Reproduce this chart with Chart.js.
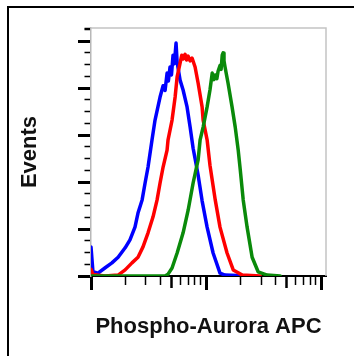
<!DOCTYPE html>
<html>
<head>
<meta charset="utf-8">
<script src="https://cdn.jsdelivr.net/npm/chart.js@4.4.1/dist/chart.umd.min.js"></script>
<style>
  html, body { margin: 0; padding: 0; background: #fff; }
  #wrap { position: relative; width: 354px; height: 356px; overflow: hidden; }
  #frame { position: absolute; left: 7px; top: 6px; width: 360px; height: 360px;
           border-top: 2px solid #000; border-left: 2px solid #000; pointer-events: none; }
  canvas { position: absolute; left: 0; top: 0; }
</style>
</head>
<body>
<div id="wrap">
  <canvas id="c" width="354" height="356"></canvas>
  <div id="frame"></div>
</div>
<script>
// ---- data (x = fluorescence, log scale; y = event counts) ----
const xTitle = 'Phospho-Aurora APC';
const yTitle = 'Events';
const xTickValues = [1,2,3,4,5,6,7,8,9,10,20,30,40,50,60,70,80,90,100];
const yTickValues = [0,25,50,75,100,125,150,175,200,225,250,275,300,325,350,375,400,425,450,475,500,525,528];

const blueEvents = [[1,0],[1,62],[1.04,9],[1.15,6],[1.32,17],[1.52,28],[1.72,40],[1.98,60],[2.18,77],[2.41,104],[2.56,134],[2.78,162],[2.95,198],[3.13,232],[3.39,290],[3.6,332],[3.98,381],[4.23,405],[4.4,395],[4.58,432],[4.7,415],[4.86,445],[5.0,428],[5.16,470],[5.3,452],[5.48,496],[5.6,455],[5.94,417],[6.31,396],[6.83,360],[7.26,317],[7.71,272],[8.02,250],[8.52,215],[9.23,160],[10.2,104],[11.5,49],[13.2,6],[14.6,2],[24,0]];

const redEvents = [[1,14],[1.04,3],[1.32,0],[1.72,2],[1.98,13],[2.27,28],[2.56,40],[2.83,62],[3.13,92],[3.46,126],[3.75,162],[3.98,198],[4.23,232],[4.58,268],[4.67,290],[5.06,332],[5.38,381],[5.6,424],[5.94,453],[6.15,470],[6.31,462],[6.57,472],[6.75,460],[6.98,468],[7.25,458],[7.55,464],[8.02,445],[8.52,411],[9.23,360],[9.42,332],[10.2,290],[10.8,236],[12.0,162],[13.2,104],[15.2,49],[17.2,13],[20.6,2],[29.5,0]];

const greenEvents = [[1,0],[4.4,0],[4.67,4],[5.06,17],[5.6,49],[6.31,92],[6.98,140],[7.71,198],[8.52,247],[8.87,290],[9.42,317],[10.2,360],[10.8,396],[11.3,432],[11.7,418],[12.0,428],[12.4,420],[12.7,436],[13.2,448],[13.5,440],[13.8,470],[14.05,475],[14.3,458],[14.6,445],[15.5,411],[16.8,360],[17.9,317],[19.0,268],[19.8,226],[21.0,162],[22.7,104],[25.1,40],[28.3,9],[33.9,2],[44,0]];

const toXY = arr => arr.map(p => ({x: p[0], y: p[1]}));

function mantissa(v) {
  const e = Math.floor(Math.log10(v) + 1e-9);
  return v / Math.pow(10, e);
}

const framePlugin = {
  id: 'frameLines',
  beforeDatasetsDraw(chart) {
    const {ctx, chartArea: a} = chart;
    ctx.save();
    ctx.strokeStyle = '#c4c4c4';
    ctx.lineWidth = 1.5;
    ctx.beginPath();
    ctx.moveTo(a.left, a.top);
    ctx.lineTo(a.right, a.top);
    ctx.lineTo(a.right, a.bottom);
    ctx.stroke();
    ctx.restore();
  }
};

const titleFont = {family: 'Liberation Sans, Arial, sans-serif', weight: 'bold', size: 22};

new Chart(document.getElementById('c'), {
  type: 'line',
  data: {
    datasets: [
      {label: 'green', data: toXY(greenEvents), borderColor: '#0a8a0a'},
      {label: 'red', data: toXY(redEvents), borderColor: '#ff0000'},
      {label: 'blue', data: toXY(blueEvents), borderColor: '#0000ff'}
    ]
  },
  options: {
    responsive: false,
    animation: false,
    events: [],
    layout: {padding: {left: 0, right: 28, top: 28, bottom: 0}},
    plugins: {legend: {display: false}, tooltip: {enabled: false}},
    elements: {
      point: {radius: 0},
      line: {borderWidth: 3.5, tension: 0, borderJoinStyle: 'round', borderCapStyle: 'round', fill: false}
    },
    scales: {
      x: {
        type: 'logarithmic',
        min: 1,
        max: 110,
        afterBuildTicks: s => { s.ticks = xTickValues.map(v => ({value: v, major: Math.abs(mantissa(v) - 1) < 1e-6})); },
        afterFit: s => { s.height = 80; },
        border: {color: '#000', width: 2},
        grid: {
          drawOnChartArea: false,
          drawTicks: true,
          tickLength: 14,
          tickColor: '#000',
          tickWidth: c => { const m = mantissa(c.tick.value); return Math.abs(m - 1) < 1e-6 ? 3 : (Math.abs(m - 5) < 1e-6 ? 2.5 : 1.5); },
          tickBorderDash: c => { const m = mantissa(c.tick.value); return Math.abs(m - 1) < 1e-6 ? [] : (Math.abs(m - 5) < 1e-6 ? [11, 100] : [8, 100]); }
        },
        ticks: {display: false},
        title: {display: true, text: xTitle, font: titleFont, color: '#111', padding: {top: 0, bottom: 16}}
      },
      y: {
        type: 'linear',
        min: 0,
        max: 528,
        afterBuildTicks: s => { s.ticks = yTickValues.map(v => ({value: v})); },
        afterFit: s => { s.width = 91; },
        border: {color: '#b8b8b8', width: 1.5},
        grid: {
          drawOnChartArea: false,
          drawTicks: true,
          tickLength: 13,
          tickColor: '#000',
          tickWidth: c => (c.tick.value % 100 === 0 ? 3 : 1.5),
          tickBorderDash: c => (c.tick.value % 100 === 0 ? [] : [0, 6.5, 7, 100])
        },
        ticks: {display: false},
        title: {display: true, text: yTitle, font: titleFont, color: '#111', padding: {top: 17, bottom: 0}}
      }
    }
  },
  plugins: [framePlugin]
});
</script>
</body>
</html>
